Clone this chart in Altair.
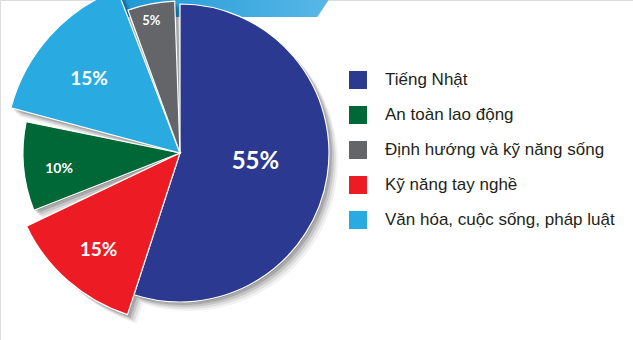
import altair as alt
import pandas as pd
from math import pi

# pie order (clockwise from 12 o'clock)
categories = ["Tiếng Nhật", "Kỹ năng tay nghề", "An toàn lao động",
              "Văn hóa, cuộc sống, pháp luật", "Định hướng và kỹ năng sống"]
values = [55, 15, 10, 15, 5]
labels = ["55%", "15%", "10%", "15%", "5%"]

legend_order = ["Tiếng Nhật", "An toàn lao động", "Định hướng và kỹ năng sống",
                "Kỹ năng tay nghề", "Văn hóa, cuộc sống, pháp luật"]
legend_colors = ["#2b3990", "#006837", "#636569", "#ed1c24", "#29abe2"]

df = pd.DataFrame({"category": categories, "value": values, "label": labels,
                   "idx": list(range(len(categories)))})

# styles (pixels / radians): outer radius, label radius, font size, angular nudges
CX, CY = 180, 153
DEG = pi / 180
style = {
    "Tiếng Nhật": dict(r=149, lr=76, fs=24, t1=0, t2=0, lt=-2 * DEG),
    "Kỹ năng tay nghề": dict(r=170, lr=127, fs=19, t1=0, t2=-7.5 * DEG, lt=-1.3 * DEG),
    "An toàn lao động": dict(r=157, lr=122, fs=14, t1=-3.4 * DEG, t2=-6.5 * DEG, lt=-2.5 * DEG),
    "Văn hóa, cuộc sống, pháp luật": dict(r=175, lr=117, fs=19, t1=-3 * DEG, t2=-3 * DEG, lt=-3 * DEG),
    "Định hướng và kỹ năng sống": dict(r=152, lr=135, fs=13, t1=-2 * DEG, t2=-2 * DEG, lt=-1.3 * DEG),
}

theta_scale = alt.Scale(domain=[0, 100], range=[0, 2 * pi])
color_scale = alt.Scale(domain=legend_order, range=legend_colors)
legend = alt.Legend(orient="none", legendX=349, legendY=71, title=None,
                    symbolType="square", symbolSize=324, symbolStrokeWidth=0,
                    symbolOpacity=1, labelFont="Liberation Sans", labelFontSize=17,
                    labelColor="#231f20", rowPadding=17, labelOffset=18,
                    labelLimit=400, padding=0)

base = alt.Chart(df).transform_window(
    cum="sum(value)", sort=[alt.SortField("idx")], frame=[None, 0]
).transform_calculate(
    start="datum.cum - datum.value", mid="datum.cum - datum.value / 2"
)

# decorative banner at top
banner_path = "M -1 -0.18 L 1 -0.18 L 0.78 0.152 L -1 0.152 Z"
banner = alt.Chart(pd.DataFrame({"a": [0]})).mark_point(
    shape=banner_path, filled=True, size=224 * 224, strokeWidth=0, opacity=1,
    fill=alt.Gradient(gradient="linear", x1=0, x2=1, y1=0, y2=0,
                      stops=[alt.GradientStop(offset=0, color="#1d98d4"),
                             alt.GradientStop(offset=1, color="#5cb9e8")])
).encode(x=alt.value(230), y=alt.value(0))

layers = [banner]

# soft drop shadows
for dx, dy, op in [(1, 1, 0.14), (3, 3, 0.14), (5, 5, 0.11), (7, 7, 0.08), (9, 9, 0.05)]:
    for cat in categories:
        s = style[cat]
        layers.append(
            base.transform_filter(alt.datum.category == cat).mark_arc(
                outerRadius=s["r"], color="#000000", opacity=op,
                thetaOffset=s["t1"], theta2Offset=s["t2"]
            ).encode(
                theta=alt.Theta("start:Q", scale=theta_scale),
                theta2="cum:Q",
                x=alt.value(CX + dx), y=alt.value(CY + dy),
            )
        )

for cat in categories:
    s = style[cat]
    layers.append(
        base.transform_filter(alt.datum.category == cat).mark_arc(
            outerRadius=s["r"], stroke="white", strokeWidth=1.2,
            thetaOffset=s["t1"], theta2Offset=s["t2"]
        ).encode(
            theta=alt.Theta("start:Q", scale=theta_scale),
            theta2="cum:Q",
            color=alt.Color("category:N", scale=color_scale, legend=legend),
            x=alt.value(CX), y=alt.value(CY),
        )
    )

for cat in categories:
    s = style[cat]
    layers.append(
        base.transform_filter(alt.datum.category == cat).mark_text(
            radius=s["lr"], font="Lato", fontWeight="bold", fontSize=s["fs"],
            color="white", align="center", baseline="middle",
            thetaOffset=(s["t1"] + s["t2"]) / 2 + s["lt"]
        ).encode(
            theta=alt.Theta("mid:Q", scale=theta_scale),
            text="label:N",
            x=alt.value(CX), y=alt.value(CY),
        )
    )

chart = alt.layer(*layers).properties(
    width=633, height=340, padding=0,
    autosize=alt.AutoSizeParams(type="none"),
).configure_view(stroke="transparent", strokeWidth=0).configure(background="white")

chart.save("out.html", embed_options={"renderer": "svg", "actions": False})
